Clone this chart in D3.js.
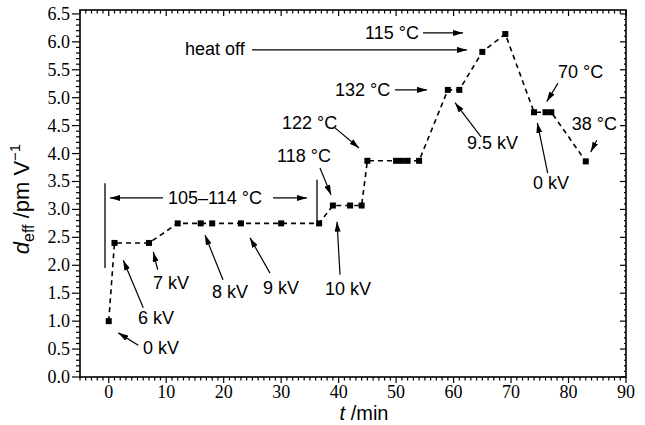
<!DOCTYPE html>
<html><head><meta charset="utf-8">
<script src="https://d3js.org/d3.v7.min.js"></script>
<style>body{margin:0;background:#fff}svg{display:block}</style>
</head><body>
<svg id="c" width="645" height="425"></svg>
<script>
// data
const times = [0,1,7,12,16,18,23,30,36.6,39,42,44,45,50,51,52,54,59,61,65,69,74,76,77,83];
const deff  = [1.0,2.4,2.4,2.75,2.75,2.75,2.75,2.75,2.75,3.07,3.07,3.07,3.87,3.87,3.87,3.87,3.87,5.14,5.14,5.82,6.14,4.74,4.74,4.74,3.86];
const xTicks = [0,10,20,30,40,50,60,70,80,90];
const yTicks = [0,0.5,1,1.5,2,2.5,3,3.5,4,4.5,5,5.5,6,6.5];
// annotation labels: text, text x, text y, arrow from x,y, arrow to x,y (data units)
const annLabels = ["heat off","115 °C","132 °C","122 °C","118 °C","105–114 °C","105–114 °C","10 kV","9 kV","8 kV","7 kV","6 kV","0 kV","9.5 kV","0 kV","70 °C","38 °C"];
const annTextX = [13.27,44.59,39.37,30.15,29.28,10.31,null,37.63,26.84,17.97,7.70,5.09,5.96,62.34,73.82,78.17,80.56];
const annTextY = [5.77,6.05,5.03,4.44,3.85,3.10,null,1.47,1.49,1.41,1.58,0.95,0.41,4.08,3.37,5.35,4.42];
const arrFromX = [24.93,54.68,49.81,39.37,36.76,9.44,28.58,40.24,28.06,19.88,8.52,6.01,5.14,64.78,76.38,78.17,84.91];
const arrFromY = [5.855,6.16,5.14,4.46,3.74,3.205,3.205,1.83,1.86,1.74,1.92,1.24,0.57,4.30,3.65,5.26,4.24];
const arrToX   = [62.34,61.64,55.38,43.55,38.68,0.22,34.50,39.72,24.58,16.75,7.75,2.53,1.66,60.25,74.57,76.21,83.87];
const arrToY   = [5.855,6.16,5.14,4.10,3.26,3.205,3.205,2.78,2.49,2.54,2.24,2.09,0.79,4.91,4.55,4.93,4.03];
// bracket bars for the 105–114 °C range
const barX  = [-0.65, 36.24];
const barY0 = [1.95, 2.78];
const barY1 = [3.47, 3.53];

const svg = d3.select("#c");
const L=80,R=626,T=10,B=377;
const x = d3.scaleLinear().domain([-5,90]).range([L,R]);
const y = d3.scaleLinear().domain([0,6.57]).range([B,T]);

// frame
svg.append("rect").attr("x",L).attr("y",T).attr("width",R-L).attr("height",B-T)
  .attr("fill","none").attr("stroke","#000").attr("stroke-width",1.6);

const tk = svg.append("g").attr("stroke","#000").attr("stroke-width",1.2);
// x ticks (minor every 1)
d3.range(-5,91,1).forEach(v=>{
  const major = v%10===0;
  const len = major?6:3.5;
  tk.append("line").attr("x1",x(v)).attr("x2",x(v)).attr("y1",B).attr("y2",B+len);
  tk.append("line").attr("x1",x(v)).attr("x2",x(v)).attr("y1",T).attr("y2",T+len);
});
// y ticks (minor every 0.1)
d3.range(0,66,1).map(i=>i/10).filter(v=>v<=6.57).forEach((v,i)=>{
  const major = Math.round(v*10)%5===0;
  const len = major?8:4;
  tk.append("line").attr("x1",L-len).attr("x2",L).attr("y1",y(v)).attr("y2",y(v));
  tk.append("line").attr("x1",R-len+2).attr("x2",R).attr("y1",y(v)).attr("y2",y(v));
});

const serif = "'Liberation Serif','Times New Roman',serif";
const sans = "'Liberation Sans',Arial,Helvetica,sans-serif";
svg.append("g").selectAll("text").data(xTicks).join("text")
  .attr("x",d=>x(d)).attr("y",398).attr("text-anchor","middle")
  .attr("font-family",serif).attr("font-size",18).text(d=>d);
svg.append("g").selectAll("text").data(yTicks).join("text")
  .attr("x",70).attr("y",d=>y(d)+6).attr("text-anchor","end")
  .attr("font-family",serif).attr("font-size",18).text(d=>d.toFixed(1));

// axis titles
const xt = svg.append("text").attr("x",364).attr("y",420).attr("text-anchor","middle")
  .attr("font-family",sans).attr("font-size",20);
xt.append("tspan").attr("font-style","italic").text("t");
xt.append("tspan").text(" /min");
const yt = svg.append("text").attr("transform","translate(29,199) rotate(-90)").attr("text-anchor","middle")
  .attr("font-family",sans).attr("font-size",22);
yt.append("tspan").attr("font-style","italic").text("d");
yt.append("tspan").attr("font-size",16).attr("dy",5).text("eff");
yt.append("tspan").attr("dy",-5).text(" /pm V");
yt.append("tspan").attr("font-size",15).attr("dy",-9).text("−1");

// dashed line
const pts = times.map((t,i)=>[t,deff[i]]);
svg.append("path").datum(pts)
  .attr("d",d3.line().x(d=>x(d[0])).y(d=>y(d[1])))
  .attr("fill","none").attr("stroke","#000").attr("stroke-width",1.6)
  .attr("stroke-dasharray","5,4");
svg.append("g").selectAll("rect").data(pts).join("rect")
  .attr("x",d=>x(d[0])-3).attr("y",d=>y(d[1])-3).attr("width",6).attr("height",6).attr("fill","#000");

// bars
svg.append("g").selectAll("line").data(barX).join("line")
  .attr("x1",d=>x(d)).attr("x2",d=>x(d)).attr("y1",(d,i)=>y(barY0[i])).attr("y2",(d,i)=>y(barY1[i]))
  .attr("stroke","#000").attr("stroke-width",1.3);

// arrows
svg.append("defs").append("marker").attr("id","ah").attr("viewBox","0 0 10 6")
  .attr("refX",10).attr("refY",3).attr("markerWidth",10).attr("markerHeight",6)
  .attr("markerUnits","userSpaceOnUse").attr("orient","auto")
  .append("path").attr("d","M0,0 L10,3 L0,6 Z").attr("fill","#000");
const ag = svg.append("g");
annLabels.forEach((lab,i)=>{
  ag.append("line").attr("x1",x(arrFromX[i])).attr("y1",y(arrFromY[i]))
    .attr("x2",x(arrToX[i])).attr("y2",y(arrToY[i]))
    .attr("stroke","#000").attr("stroke-width",1.2).attr("marker-end","url(#ah)");
  if(annTextX[i]!==null){
    ag.append("text").attr("x",x(annTextX[i])).attr("y",y(annTextY[i]))
      .attr("font-family",sans).attr("font-size",18).text(lab);
  }
});
</script>
</body></html>
